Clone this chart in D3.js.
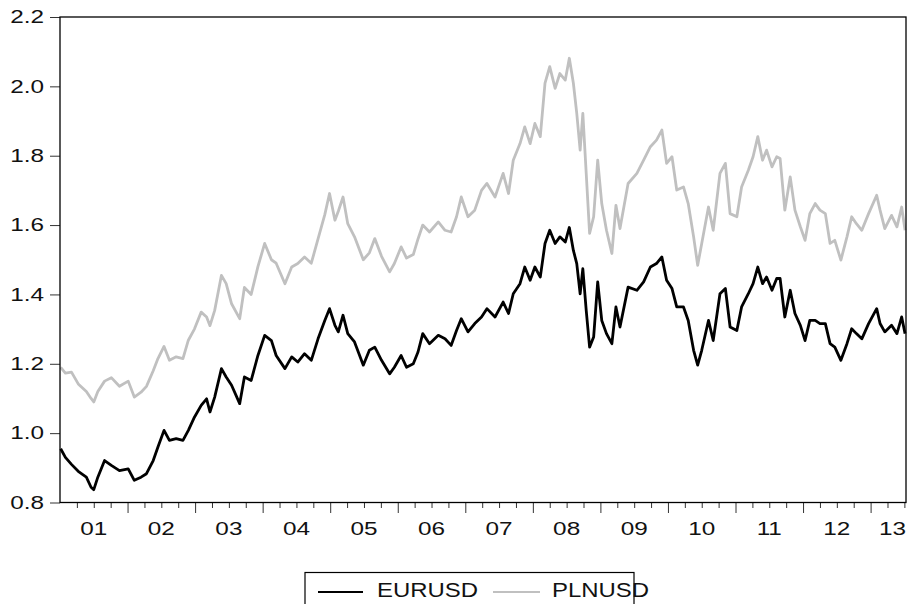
<!DOCTYPE html>
<html lang="en">
<head>
  <meta charset="UTF-8">
  <title>EURUSD and PLNUSD</title>
  <script src="https://d3js.org/d3.v7.min.js"></script>
  <style>
    body {
      margin: 0;
      background: #fff;
    }
    svg {
      display: block;
      font-family: "Liberation Sans", Arial, sans-serif;
    }
  </style>
</head>
<body>
  <svg id="chart" width="914" height="604"></svg>

  <script>
    // decimal years
    const dates = [
      2001.01, 2001.08, 2001.17, 2001.27, 2001.39, 2001.46, 2001.50, 2001.56, 2001.66, 2001.76, 2001.88,
      2002.01, 2002.10, 2002.20, 2002.28, 2002.38, 2002.45, 2002.54, 2002.62, 2002.72, 2002.82, 2002.90, 2002.99,
      2003.09, 2003.17, 2003.22, 2003.29, 2003.39, 2003.46, 2003.54, 2003.66, 2003.73, 2003.83, 2003.93,
      2004.03, 2004.13, 2004.20, 2004.33, 2004.43, 2004.52, 2004.62, 2004.72, 2004.82, 2004.92, 2004.99,
      2005.07, 2005.12, 2005.19, 2005.26, 2005.36, 2005.49, 2005.58, 2005.66, 2005.76, 2005.88, 2005.95,
      2006.05, 2006.13, 2006.23, 2006.30, 2006.37, 2006.47, 2006.60, 2006.70, 2006.79, 2006.87, 2006.94,
      2007.04, 2007.14, 2007.24, 2007.32, 2007.44, 2007.56, 2007.64, 2007.71, 2007.81, 2007.88, 2007.96,
      2008.03, 2008.11, 2008.18, 2008.25, 2008.33, 2008.40, 2008.48, 2008.54, 2008.60, 2008.65, 2008.70,
      2008.74, 2008.79, 2008.84, 2008.90, 2008.96,
      2009.02, 2009.09, 2009.17, 2009.23, 2009.29, 2009.41, 2009.54, 2009.64, 2009.74, 2009.83, 2009.91, 2009.98,
      2010.06, 2010.13, 2010.23, 2010.30, 2010.38, 2010.44, 2010.50, 2010.60, 2010.67, 2010.77, 2010.85, 2010.92,
      2011.02, 2011.09, 2011.19, 2011.26, 2011.33, 2011.40, 2011.46, 2011.54, 2011.61, 2011.66, 2011.73, 2011.81,
      2011.88, 2011.96,
      2012.03, 2012.10, 2012.18, 2012.25, 2012.33, 2012.40, 2012.47, 2012.56, 2012.65, 2012.72, 2012.79, 2012.87,
      2012.97,
      2013.09, 2013.14, 2013.21, 2013.31, 2013.39, 2013.46, 2013.51
    ];

    const eurusd = [
      0.955, 0.930, 0.910, 0.890, 0.873, 0.844, 0.837, 0.873, 0.921, 0.907, 0.892,
      0.897, 0.864, 0.873, 0.883, 0.921, 0.960, 1.008, 0.979, 0.984, 0.979, 1.008, 1.046,
      1.080, 1.099, 1.061, 1.104, 1.186, 1.162, 1.138, 1.085, 1.162, 1.152, 1.224,
      1.282, 1.267, 1.224, 1.186, 1.220, 1.205, 1.229, 1.210, 1.272, 1.325, 1.359,
      1.311, 1.292, 1.340, 1.287, 1.263, 1.196, 1.239, 1.248, 1.210, 1.171, 1.190,
      1.224, 1.190, 1.200, 1.234, 1.287, 1.258, 1.282, 1.272, 1.253, 1.296, 1.330,
      1.292, 1.316, 1.335, 1.359, 1.335, 1.378, 1.345, 1.402, 1.431, 1.479, 1.441,
      1.479, 1.450, 1.547, 1.585, 1.547, 1.566, 1.551, 1.593, 1.527, 1.489, 1.402,
      1.474, 1.354, 1.248, 1.277, 1.436,
      1.325, 1.287, 1.258, 1.364, 1.306, 1.421, 1.412, 1.436, 1.479, 1.489, 1.508, 1.441,
      1.417, 1.364, 1.364, 1.325, 1.239, 1.196, 1.239, 1.325, 1.267, 1.402, 1.417, 1.306,
      1.296, 1.364, 1.402, 1.431, 1.479, 1.431, 1.450, 1.412, 1.446, 1.446, 1.335, 1.412,
      1.345, 1.311,
      1.267, 1.325, 1.325, 1.316, 1.316, 1.258, 1.248, 1.210, 1.258, 1.301, 1.287, 1.272,
      1.316,
      1.359, 1.316, 1.292, 1.311, 1.287, 1.335, 1.287
    ];

    const plnusd = [
      1.190, 1.173, 1.176, 1.142, 1.120, 1.100, 1.090, 1.120, 1.150, 1.160, 1.135,
      1.150, 1.104, 1.118, 1.135, 1.180, 1.215, 1.250, 1.210, 1.220, 1.215, 1.268, 1.300,
      1.349, 1.335, 1.310, 1.354, 1.455, 1.431, 1.373, 1.330, 1.420, 1.400, 1.480,
      1.547, 1.500, 1.490, 1.431, 1.479, 1.489, 1.508, 1.490, 1.560, 1.630, 1.691,
      1.614, 1.640, 1.681, 1.604, 1.566, 1.500, 1.520, 1.561, 1.510, 1.465, 1.489,
      1.537, 1.505, 1.515, 1.560, 1.600, 1.580, 1.609, 1.585, 1.580, 1.624, 1.681,
      1.624, 1.643, 1.700, 1.720, 1.681, 1.749, 1.691, 1.787, 1.835, 1.883, 1.835,
      1.893, 1.855, 2.009, 2.057, 1.994, 2.037, 2.018, 2.081, 2.009, 1.922, 1.816,
      1.922, 1.749, 1.576, 1.624, 1.787,
      1.662, 1.585, 1.518, 1.657, 1.590, 1.720, 1.749, 1.787, 1.826, 1.845, 1.874, 1.778,
      1.797, 1.701, 1.710, 1.662, 1.566, 1.484, 1.547, 1.652, 1.585, 1.749, 1.778, 1.633,
      1.624, 1.710, 1.758, 1.797, 1.855, 1.787, 1.816, 1.768, 1.797, 1.792, 1.643, 1.739,
      1.643, 1.595,
      1.556, 1.633, 1.662, 1.643, 1.633, 1.547, 1.556, 1.499, 1.566, 1.624, 1.604, 1.585,
      1.633,
      1.686, 1.643, 1.590, 1.628, 1.595, 1.652, 1.585
    ];

    const yTicks = [0.8, 1.0, 1.2, 1.4, 1.6, 1.8, 2.0, 2.2];
    const years = [2001, 2002, 2003, 2004, 2005, 2006, 2007, 2008, 2009, 2010, 2011, 2012, 2013];
    const yearLabels = ["01", "02", "03", "04", "05", "06", "07", "08", "09", "10", "11", "12", "13"];
    const seriesNames = ["EURUSD", "PLNUSD"];
    const seriesColors = ["#000000", "#c0c0c0"];

    const xStart = 2001, xEnd = 2013.524;
    const plot = { left: 60, right: 906, top: 17, bottom: 502.5 };
    const stretch = 1.28; // labels in the original look horizontally stretched

    const svg = d3.select("#chart");

    const x = d3.scaleLinear().domain([xStart, xEnd]).range([plot.left, plot.right]);
    const y = d3.scaleLinear().domain([0.8, 2.2]).range([plot.bottom, plot.top]);

    // y axis ticks
    svg.append("g")
      .attr("transform", `translate(${plot.left},0)`)
      .call(d3.axisLeft(y).tickValues(yTicks).tickSize(10).tickFormat(""))
      .call(g => g.select(".domain").remove())
      .selectAll("line").attr("stroke", "#333");

    svg.append("g").selectAll("text")
      .data(yTicks)
      .enter().append("text")
        .attr("transform", d => `translate(44,${y(d) + 6.2}) scale(${stretch},1)`)
        .attr("text-anchor", "end")
        .attr("font-size", 19)
        .attr("fill", "#111")
        .text(d => d3.format(".1f")(d));

    // x axis: quarter ticks and year ticks
    const quarters = [];
    years.forEach(yr => [0.25, 0.5, 0.75].forEach(q => { if (yr + q < xEnd) quarters.push(yr + q); }));

    svg.append("g")
      .attr("transform", `translate(0,${plot.bottom})`)
      .call(d3.axisBottom(x).tickValues(quarters).tickSize(5.5).tickFormat(""))
      .call(g => g.select(".domain").remove())
      .selectAll("line").attr("stroke", "#333");

    svg.append("g")
      .attr("transform", `translate(0,${plot.bottom})`)
      .call(d3.axisBottom(x).tickValues(years.slice(1)).tickSize(10.5).tickFormat(""))
      .call(g => g.select(".domain").remove())
      .selectAll("line").attr("stroke", "#333");

    const xLabels = svg.append("g").selectAll("text")
      .data(years)
      .enter().append("text")
        .attr("text-anchor", "middle")
        .attr("font-size", 19)
        .attr("fill", "#111")
        .text((d, i) => yearLabels[i]);

    xLabels.attr("transform", function(d) {
      const half = this.getComputedTextLength() * stretch / 2;
      const cx = Math.min((x(d) + x(d + 1)) / 2, plot.right - half);
      return `translate(${cx},535) scale(${stretch},1)`;
    });

    // series
    const line = d3.line()
      .x((d, i) => x(dates[i]))
      .y(d => y(d));

    [plnusd, eurusd].forEach((values, k) => {
      svg.append("path")
        .datum(values)
        .attr("fill", "none")
        .attr("stroke", k === 0 ? seriesColors[1] : seriesColors[0])
        .attr("stroke-width", 2.8)
        .attr("stroke-linejoin", "round")
        .attr("d", line);
    });

    // frame
    svg.append("rect")
      .attr("x", plot.left)
      .attr("y", plot.top)
      .attr("width", plot.right - plot.left)
      .attr("height", plot.bottom - plot.top)
      .attr("fill", "none")
      .attr("stroke", "#000")
      .attr("stroke-width", 1.3);

    // legend
    const legend = svg.append("g");
    legend.append("rect")
      .attr("x", 305).attr("y", 572.5)
      .attr("width", 329).attr("height", 45)
      .attr("fill", "#fff")
      .attr("stroke", "#000")
      .attr("stroke-width", 1.2);

    const legendPos = [{ x1: 318, x2: 363, tx: 377 }, { x1: 493, x2: 540, tx: 552 }];
    seriesNames.forEach((name, i) => {
      legend.append("line")
        .attr("x1", legendPos[i].x1).attr("x2", legendPos[i].x2)
        .attr("y1", 592).attr("y2", 592)
        .attr("stroke", seriesColors[i])
        .attr("stroke-width", 2);
      legend.append("text")
        .attr("transform", `translate(${legendPos[i].tx},597) scale(1.14,1)`)
        .attr("font-size", 21)
        .attr("fill", "#111")
        .text(name);
    });
  </script>
</body>
</html>
